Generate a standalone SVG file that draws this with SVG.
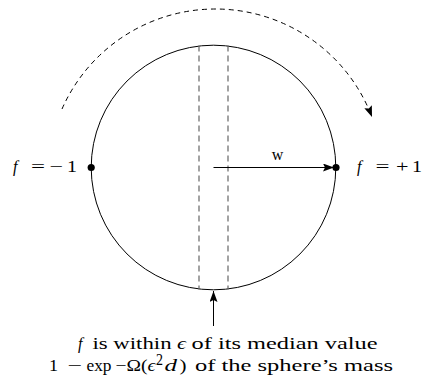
<svg xmlns="http://www.w3.org/2000/svg" width="422" height="383" viewBox="0 0 422 383">
<defs>
<style>
.t{font-family:"Liberation Serif","DejaVu Serif",serif;font-size:16px;fill:#000}
.i{font-style:italic}
.ln{fill:none;stroke:#000;stroke-width:1}
.dl{stroke:#666;stroke-width:1.2;stroke-dasharray:6,4}
</style>
<marker id="ah" markerWidth="12" markerHeight="8" refX="11" refY="4" orient="auto" markerUnits="userSpaceOnUse">
<path d="M0,0 L11,4 L0,8 L2,4 z" fill="#000"/>
</marker>
</defs>
<rect width="422" height="383" fill="#fff"/>
<g id="sphere">
<circle cx="213.5" cy="167.5" r="122.3" class="ln"/>
<line x1="199" y1="45.5" x2="199" y2="289.5" class="dl"/>
<line x1="228" y1="45.5" x2="228" y2="289.5" class="dl"/>
</g>
<g id="connectors">
<path d="M62,109 A167.6,167.6 0 0 1 372,117" class="ln" stroke-dasharray="5,4" marker-end="url(#ah)"/>
<line x1="213.5" y1="167.5" x2="334" y2="167.5" class="ln" marker-end="url(#ah)"/>
<line x1="213.5" y1="326" x2="213.5" y2="291" class="ln" marker-end="url(#ah)"/>
</g>
<g id="minus">
<circle cx="91.2" cy="167.5" r="3.6" fill="#000"/>
<text class="t i" x="13" y="172">f</text>
<text class="t" x="31" y="172" textLength="14" lengthAdjust="spacingAndGlyphs">=</text>
<text class="t" x="49.5" y="172" textLength="13.5" lengthAdjust="spacingAndGlyphs">−</text>
<text class="t" x="67" y="172" textLength="10" lengthAdjust="spacingAndGlyphs">1</text>
</g>
<g id="plus">
<circle cx="336" cy="167.5" r="3.6" fill="#000"/>
<text class="t i" x="357" y="172">f</text>
<text class="t" x="375.5" y="172" textLength="14" lengthAdjust="spacingAndGlyphs">=</text>
<text class="t" x="396" y="172" textLength="12.5" lengthAdjust="spacingAndGlyphs">+</text>
<text class="t" x="412" y="172" textLength="10" lengthAdjust="spacingAndGlyphs">1</text>
</g>
<g id="w-label">
<text class="t" x="277.5" y="160" text-anchor="middle">w</text>
</g>
<g id="caption">
<text class="t i" x="78" y="349">f</text>
<text class="t" x="92.5" y="349" textLength="79" lengthAdjust="spacingAndGlyphs">is within</text>
<text class="t i" x="177" y="349" textLength="9" lengthAdjust="spacingAndGlyphs">ϵ</text>
<text class="t" x="191.5" y="349" textLength="186" lengthAdjust="spacingAndGlyphs">of its median value</text>
<text class="t" x="49" y="371" textLength="9" lengthAdjust="spacingAndGlyphs">1</text>
<text class="t" x="67.5" y="371" textLength="14.5" lengthAdjust="spacingAndGlyphs">−</text>
<text class="t" x="86.5" y="371" textLength="25" lengthAdjust="spacingAndGlyphs">exp</text>
<text class="t" x="115.5" y="371" textLength="32" lengthAdjust="spacingAndGlyphs">−Ω(</text>
<text class="t i" x="147.5" y="371" textLength="8" lengthAdjust="spacingAndGlyphs">ϵ</text>
<text class="t" x="156" y="365" font-size="11" textLength="7" lengthAdjust="spacingAndGlyphs">2</text>
<text class="t i" x="164.5" y="371" textLength="12.5" lengthAdjust="spacingAndGlyphs">d</text>
<text class="t" x="179.5" y="371" textLength="7" lengthAdjust="spacingAndGlyphs">)</text>
<text class="t" x="195" y="371" textLength="198" lengthAdjust="spacingAndGlyphs">of the sphere’s mass</text>
</g>
</svg>
